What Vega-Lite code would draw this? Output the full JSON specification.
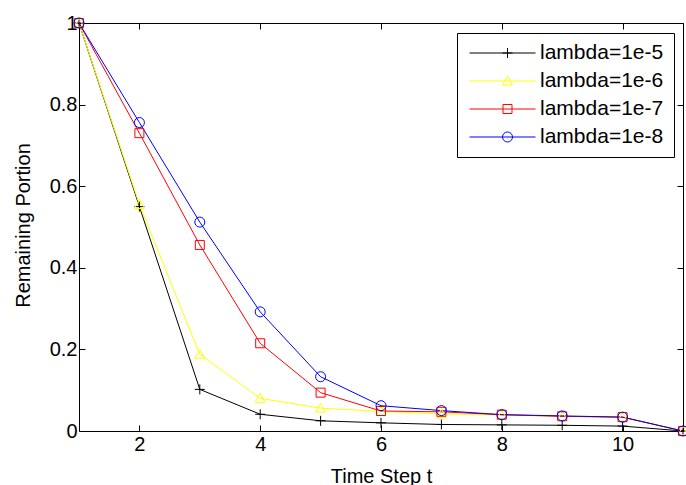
{
  "$schema": "https://vega.github.io/schema/vega-lite/v6.json",
  "width": 604,
  "height": 408,
  "autosize": {"type": "none"},
  "padding": {"left": 79, "top": 23, "right": 3, "bottom": 54},
  "background": "white",
  "config": {
    "view": {"stroke": null},
    "font": "Liberation Sans",
    "axis": {
      "domainColor": "#000000",
      "domainWidth": 1,
      "tickColor": "#000000",
      "tickSize": -6,
      "labelColor": "#000000",
      "labelFont": "Liberation Sans",
      "labelFontSize": 20,
      "titleFont": "Liberation Sans",
      "titleFontSize": 20,
      "titleFontWeight": "normal",
      "titleColor": "#000000",
      "grid": false
    }
  },
  "data": {
    "values": [
      {"t": 1, "v": 1.0, "s": "lambda=1e-5"},
      {"t": 2, "v": 0.55, "s": "lambda=1e-5"},
      {"t": 3, "v": 0.102, "s": "lambda=1e-5"},
      {"t": 4, "v": 0.041, "s": "lambda=1e-5"},
      {"t": 5, "v": 0.025, "s": "lambda=1e-5"},
      {"t": 6, "v": 0.02, "s": "lambda=1e-5"},
      {"t": 7, "v": 0.016, "s": "lambda=1e-5"},
      {"t": 8, "v": 0.015, "s": "lambda=1e-5"},
      {"t": 9, "v": 0.014, "s": "lambda=1e-5"},
      {"t": 10, "v": 0.012, "s": "lambda=1e-5"},
      {"t": 11, "v": 0.0, "s": "lambda=1e-5"},
      {"t": 1, "v": 1.0, "s": "lambda=1e-6"},
      {"t": 2, "v": 0.555, "s": "lambda=1e-6"},
      {"t": 3, "v": 0.188, "s": "lambda=1e-6"},
      {"t": 4, "v": 0.08, "s": "lambda=1e-6"},
      {"t": 5, "v": 0.056, "s": "lambda=1e-6"},
      {"t": 6, "v": 0.048, "s": "lambda=1e-6"},
      {"t": 7, "v": 0.042, "s": "lambda=1e-6"},
      {"t": 8, "v": 0.039, "s": "lambda=1e-6"},
      {"t": 9, "v": 0.036, "s": "lambda=1e-6"},
      {"t": 10, "v": 0.033, "s": "lambda=1e-6"},
      {"t": 11, "v": 0.0, "s": "lambda=1e-6"},
      {"t": 1, "v": 1.0, "s": "lambda=1e-7"},
      {"t": 2, "v": 0.73, "s": "lambda=1e-7"},
      {"t": 3, "v": 0.456, "s": "lambda=1e-7"},
      {"t": 4, "v": 0.215, "s": "lambda=1e-7"},
      {"t": 5, "v": 0.094, "s": "lambda=1e-7"},
      {"t": 6, "v": 0.049, "s": "lambda=1e-7"},
      {"t": 7, "v": 0.047, "s": "lambda=1e-7"},
      {"t": 8, "v": 0.04, "s": "lambda=1e-7"},
      {"t": 9, "v": 0.036, "s": "lambda=1e-7"},
      {"t": 10, "v": 0.034, "s": "lambda=1e-7"},
      {"t": 11, "v": 0.0, "s": "lambda=1e-7"},
      {"t": 1, "v": 1.0, "s": "lambda=1e-8"},
      {"t": 2, "v": 0.756, "s": "lambda=1e-8"},
      {"t": 3, "v": 0.512, "s": "lambda=1e-8"},
      {"t": 4, "v": 0.292, "s": "lambda=1e-8"},
      {"t": 5, "v": 0.133, "s": "lambda=1e-8"},
      {"t": 6, "v": 0.062, "s": "lambda=1e-8"},
      {"t": 7, "v": 0.05, "s": "lambda=1e-8"},
      {"t": 8, "v": 0.04, "s": "lambda=1e-8"},
      {"t": 9, "v": 0.037, "s": "lambda=1e-8"},
      {"t": 10, "v": 0.034, "s": "lambda=1e-8"},
      {"t": 11, "v": 0.0, "s": "lambda=1e-8"}
    ]
  },
  "layer": [
    {
      "mark": {"type": "line", "strokeWidth": 1},
      "encoding": {
        "x": {
          "field": "t", "type": "quantitative",
          "scale": {"domain": [1, 11], "nice": false, "zero": false},
          "axis": {"orient": "bottom", "values": [2, 4, 6, 8, 10], "title": "Time Step t",
                   "labelPadding": 9, "titleY": 51, "titleBaseline": "alphabetic"}
        },
        "y": {
          "field": "v", "type": "quantitative",
          "scale": {"domain": [0, 1], "nice": false},
          "axis": {"orient": "left", "values": [0, 0.2, 0.4, 0.6, 0.8, 1], "format": "~g",
                   "title": "Remaining Portion", "labelPadding": 8,
                   "titleX": -50, "titleY": 202, "titleBaseline": "alphabetic", "titleAlign": "center"}
        },
        "color": {
          "field": "s", "type": "nominal",
          "scale": {"domain": ["lambda=1e-5", "lambda=1e-6", "lambda=1e-7", "lambda=1e-8"],
                    "range": ["#000000", "#ffff00", "#ff0000", "#0000ff"]},
          "legend": {
            "title": null,
            "orient": "none",
            "legendX": 378,
            "legendY": 10,
            "padding": 10,
            "symbolType": "stroke",
            "symbolSize": 4356,
            "symbolOffset": 2,
            "symbolStrokeWidth": 1,
            "clipHeight": 20,
            "rowPadding": 7,
            "labelOffset": 6,
            "labelFont": "Liberation Sans",
            "labelFontSize": 21,
            "labelExpr": "''"
          }
        }
      }
    },
    {
      "mark": {"type": "point", "filled": false, "size": 100, "strokeWidth": 1, "opacity": 1},
      "encoding": {
        "x": {
          "field": "t", "type": "quantitative",
          "axis": {"orient": "top", "values": [2, 4, 6, 8, 10], "labels": false, "title": null}
        },
        "y": {
          "field": "v", "type": "quantitative",
          "axis": {"orient": "right", "values": [0, 0.2, 0.4, 0.6, 0.8, 1], "labels": false, "title": null}
        },
        "color": {
          "field": "s", "type": "nominal",
          "legend": {
            "title": null,
            "orient": "none",
            "legendX": 378,
            "legendY": 10,
            "padding": 10,
            "strokeColor": "#000000",
            "symbolSize": 100,
            "symbolOffset": 30,
            "symbolStrokeWidth": 1,
            "symbolFillColor": "transparent",
            "clipHeight": 20,
            "rowPadding": 7,
            "labelOffset": 22,
            "labelFont": "Liberation Sans",
            "labelFontSize": 21,
            "labelColor": "#000000"
          }
        },
        "shape": {
          "field": "s", "type": "nominal",
          "scale": {"domain": ["lambda=1e-5", "lambda=1e-6", "lambda=1e-7", "lambda=1e-8"],
                    "range": ["M-1,0H1M0,-1V1", "M0,-1L1,0.8H-1Z", "M-0.9,-0.9H0.9V0.9H-0.9Z", "circle"]},
          "legend": {
            "title": null,
            "orient": "none",
            "legendX": 378,
            "legendY": 10,
            "padding": 10,
            "strokeColor": "#000000",
            "symbolSize": 100,
            "symbolOffset": 30,
            "symbolStrokeWidth": 1,
            "symbolFillColor": "transparent",
            "clipHeight": 20,
            "rowPadding": 7,
            "labelOffset": 22,
            "labelFont": "Liberation Sans",
            "labelFontSize": 21,
            "labelColor": "#000000"
          }
        }
      }
    }
  ],
  "resolve": {
    "axis": {"x": "independent", "y": "independent"},
    "legend": {"color": "independent", "shape": "independent"}
  }
}
